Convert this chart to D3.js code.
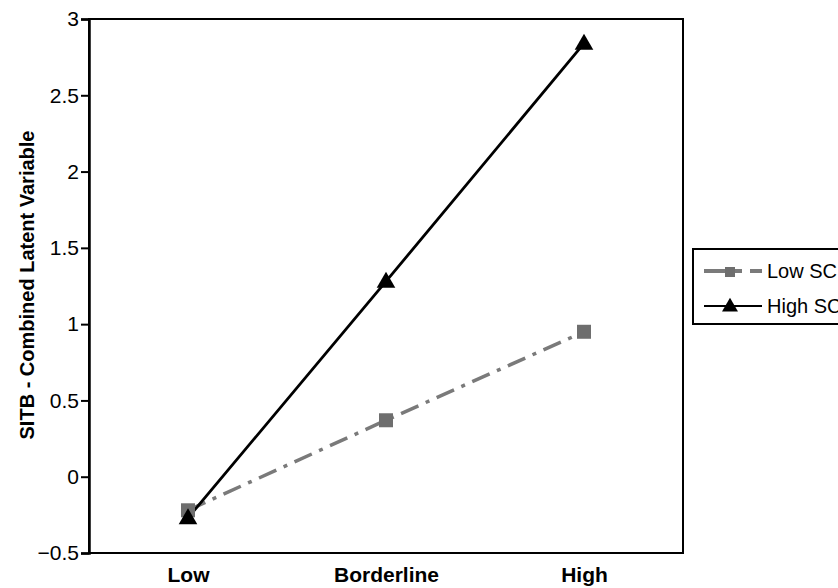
<!DOCTYPE html>
<html>
<head>
<meta charset="utf-8">
<script src="https://cdn.jsdelivr.net/npm/d3@7"></script>
<style>
  body { margin: 0; background: #fff; }
  svg { display: block; font-family: "Liberation Sans", Arial, sans-serif; }
</style>
</head>
<body>
<svg id="chart" width="838" height="588"></svg>
<script>
// levels on the x axis
var categories = ["Low", "Borderline", "High"];
// SITB latent variable per group
var lowSC = [-0.22, 0.37, 0.95];
var highSC = [-0.27, 1.28, 2.84];
var yTicks = [-0.5, 0, 0.5, 1, 1.5, 2, 2.5, 3];
var seriesNames = ["Low SC", "High SC"];

var svg = d3.select("#chart"),
  margin = {top: 19, right: 155, bottom: 35, left: 89},
  width = +svg.attr("width") - margin.left - margin.right,
  height = +svg.attr("height") - margin.top - margin.bottom,
  g = svg.append("g").attr("transform", "translate(" + margin.left + "," + margin.top + ")");

var x = d3.scalePoint()
  .domain(categories)
  .range([0, width])
  .padding(0.5);

var y = d3.scaleLinear()
  .domain([-0.5, 3])
  .range([height, 0]);

// frame
g.append("rect")
  .attr("width", width)
  .attr("height", height)
  .attr("fill", "none")
  .attr("stroke", "#000")
  .attr("stroke-width", 2);

var yAxis = g.append("g")
  .call(d3.axisLeft(y).tickValues(yTicks).tickSize(8).tickPadding(2).tickFormat(d3.format("")));
yAxis.select(".domain").attr("stroke-width", 2.5);
yAxis.selectAll(".tick line").attr("stroke-width", 2);
yAxis.selectAll("text")
  .style("font-size", "21px")
  .attr("fill", "#000");

var xAxis = g.append("g")
  .attr("transform", "translate(0," + height + ")")
  .call(d3.axisBottom(x).tickSize(0).tickPadding(14));
xAxis.select(".domain").remove();
xAxis.selectAll("text")
  .style("font-size", "21px")
  .style("font-weight", "bold")
  .attr("fill", "#000");

svg.append("text")
  .attr("transform", "translate(34," + (margin.top + height / 2 - 1) + ") rotate(-90)")
  .attr("text-anchor", "middle")
  .style("font-size", "20px")
  .style("font-weight", "bold")
  .text("SITB - Combined Latent Variable");

var line = d3.line()
  .x(function(d, i) { return x(categories[i]); })
  .y(function(d) { return y(d); });

var grey = "#6e6e6e";
var dashDot = "19,8,4,8";

g.append("path")
  .datum(lowSC)
  .attr("d", line)
  .attr("fill", "none")
  .attr("stroke", "#7a7a7a")
  .attr("stroke-width", 3.5)
  .attr("stroke-dasharray", dashDot);

g.append("path")
  .datum(highSC)
  .attr("d", line)
  .attr("fill", "none")
  .attr("stroke", "#000")
  .attr("stroke-width", 2.8);

var square = d3.symbol().type(d3.symbolSquare).size(196);
var tri = d3.symbol().type(d3.symbolTriangle).size(150);

g.selectAll(".sq")
  .data(lowSC)
  .enter().append("path")
    .attr("class", "sq")
    .attr("d", square)
    .attr("fill", grey)
    .attr("transform", function(d, i) { return "translate(" + x(categories[i]) + "," + y(d) + ")"; });

g.selectAll(".tri")
  .data(highSC)
  .enter().append("path")
    .attr("class", "tri")
    .attr("d", tri)
    .attr("fill", "#000")
    .attr("transform", function(d, i) { return "translate(" + x(categories[i]) + "," + (y(d) + 1) + ")"; });

// legend
var legend = svg.append("g").attr("transform", "translate(693,249)");
legend.append("rect")
  .attr("width", 200)
  .attr("height", 75)
  .attr("fill", "#fff")
  .attr("stroke", "#000")
  .attr("stroke-width", 2);

var rows = legend.selectAll(".row")
  .data(seriesNames)
  .enter().append("g")
    .attr("class", "row")
    .attr("transform", function(d, i) { return "translate(0," + (22 + i * 35) + ")"; });

rows.append("line")
  .attr("x1", 11)
  .attr("x2", 69)
  .attr("stroke", function(d, i) { return i === 0 ? "#7a7a7a" : "#000"; })
  .attr("stroke-width", function(d, i) { return i === 0 ? 4 : 2; })
  .attr("stroke-dasharray", function(d, i) { return i === 0 ? "38,8,12" : null; });

rows.append("path")
  .attr("d", function(d, i) { return i === 0 ? d3.symbol().type(d3.symbolSquare).size(100)() : d3.symbol().type(d3.symbolTriangle).size(110)(); })
  .attr("fill", function(d, i) { return i === 0 ? grey : "#000"; })
  .attr("transform", "translate(37,1)");

rows.append("text")
  .attr("x", 74)
  .attr("dy", "0.35em")
  .style("font-size", "20px")
  .attr("fill", "#000")
  .text(function(d) { return d; });
</script>
</body>
</html>
